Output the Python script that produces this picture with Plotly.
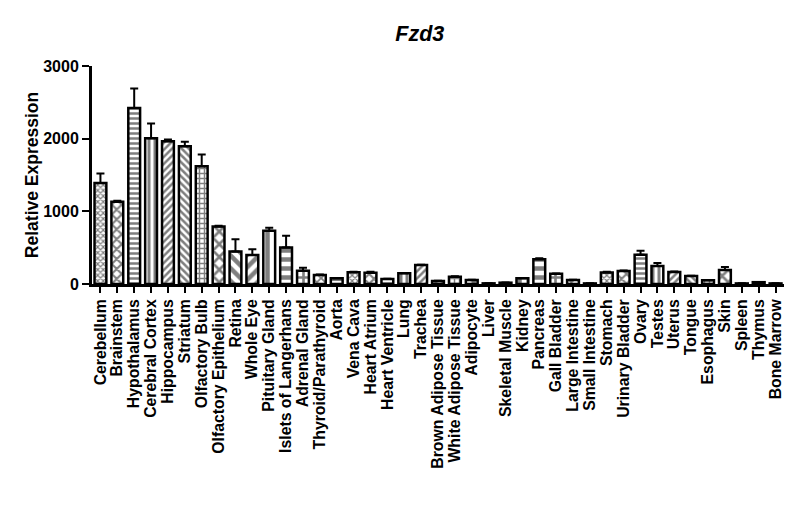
"""Fzd3 relative expression across mouse tissues, Prism-style patterned bars."""

import plotly.graph_objects as go

tissues = [
    "Cerebellum", "Brainstem", "Hypothalamus", "Cerebral Cortex", "Hippocampus",
    "Striatum", "Olfactory Bulb", "Olfactory Epithelium", "Retina", "Whole Eye",
    "Pituitary Gland", "Islets of Langerhans", "Adrenal Gland", "Thyroid/Parathyroid",
    "Aorta", "Vena Cava", "Heart Atrium", "Heart Ventricle", "Lung", "Trachea",
    "Brown Adipose Tissue", "White Adipose Tissue", "Adipocyte", "Liver",
    "Skeletal Muscle", "Kidney", "Pancreas", "Gall Bladder", "Large Intestine",
    "Small Intestine", "Stomach", "Urinary Bladder", "Ovary", "Testes", "Uterus",
    "Tongue", "Esophagus", "Skin", "Spleen", "Thymus", "Bone Marrow",
]

expression = [
    1390, 1132, 2421, 2006, 1965, 1896, 1620, 792, 446, 400,
    732, 502, 184, 124, 78, 161, 156, 69, 147, 262,
    41, 101, 55, 9, 18, 79, 341, 140, 55, 8,
    157, 180, 401, 249, 166, 111, 51, 194, 8, 25, 8,
]

sem = [
    129, 14, 271, 203, 23, 60, 161, 8, 171, 79,
    41, 161, 41, 6, 4, 6, 14, 3, 5, 4,
    3, 5, 4, 2, 2, 4, 15, 6, 4, 2,
    13, 6, 55, 41, 5, 4, 3, 41, 2, 3, 2,
]

# Prism cycles through 15 fills
fills = [("x", 4), ("x", 7), ("-", 5), ("|", 6), ("/", 5), ("\\", 5), ("+", 5),
         ("x", 9), ("\\", 9), ("/", 9), ("|", 9), ("-", 9), ("+", 9), ("x", 6), ("-", 4)]
shapes = [fills[i % 15][0] for i in range(len(tissues))]
sizes = [fills[i % 15][1] for i in range(len(tissues))]

fig = go.Figure()
fig.add_trace(go.Bar(
    x=tissues, y=expression,
    marker=dict(color="white",
                line=dict(color="black", width=2.5),
                pattern=dict(shape=shapes, size=sizes, solidity=0.5,
                             fgcolor="black", bgcolor="white", fillmode="overlay")),
    error_y=dict(type="data", symmetric=False, array=sem,
                 arrayminus=[0] * len(sem), color="black", thickness=2, width=4),
))

# page body has an 8px margin, so the figure is 8px smaller and shifted
font_family = "Arial, Liberation Sans, sans-serif"
fig.update_layout(
    width=792, height=514,
    margin=dict(l=84, r=16, t=58, b=238),
    paper_bgcolor="white", plot_bgcolor="white",
    bargap=0.3, showlegend=False,
    font=dict(family=font_family, color="black"),
    title=dict(text="<b><i>Fzd3</i></b>", x=0.52, xref="container", xanchor="center",
               y=0.951, yref="container", yanchor="middle",
               font=dict(size=21.5, family=font_family)),
)
fig.update_xaxes(
    range=[-0.5, 40.5], tickmode="array", tickvals=tissues,
    ticktext=["<b>" + t + "</b>" for t in tissues],
    tickangle=-90, showline=True, linecolor="black", linewidth=3,
    ticks="outside", ticklen=6, tickwidth=2, tickcolor="black",
    tickfont=dict(size=15.8, family=font_family), automargin=False,
)
fig.update_yaxes(
    range=[0, 3000], tickvals=[0, 1000, 2000, 3000],
    ticktext=["<b>0</b>", "<b>1000</b>", "<b>2000</b>", "<b>3000</b>"],
    showline=True, linecolor="black",
    linewidth=3, ticks="outside", ticklen=7, tickwidth=2, tickcolor="black",
    showgrid=False, zeroline=False, tickfont=dict(size=16, family=font_family),
    title=dict(text="<b>Relative Expression</b>", font=dict(size=17.5), standoff=1),
    automargin=False,
)

fig.write_html("out.html")
